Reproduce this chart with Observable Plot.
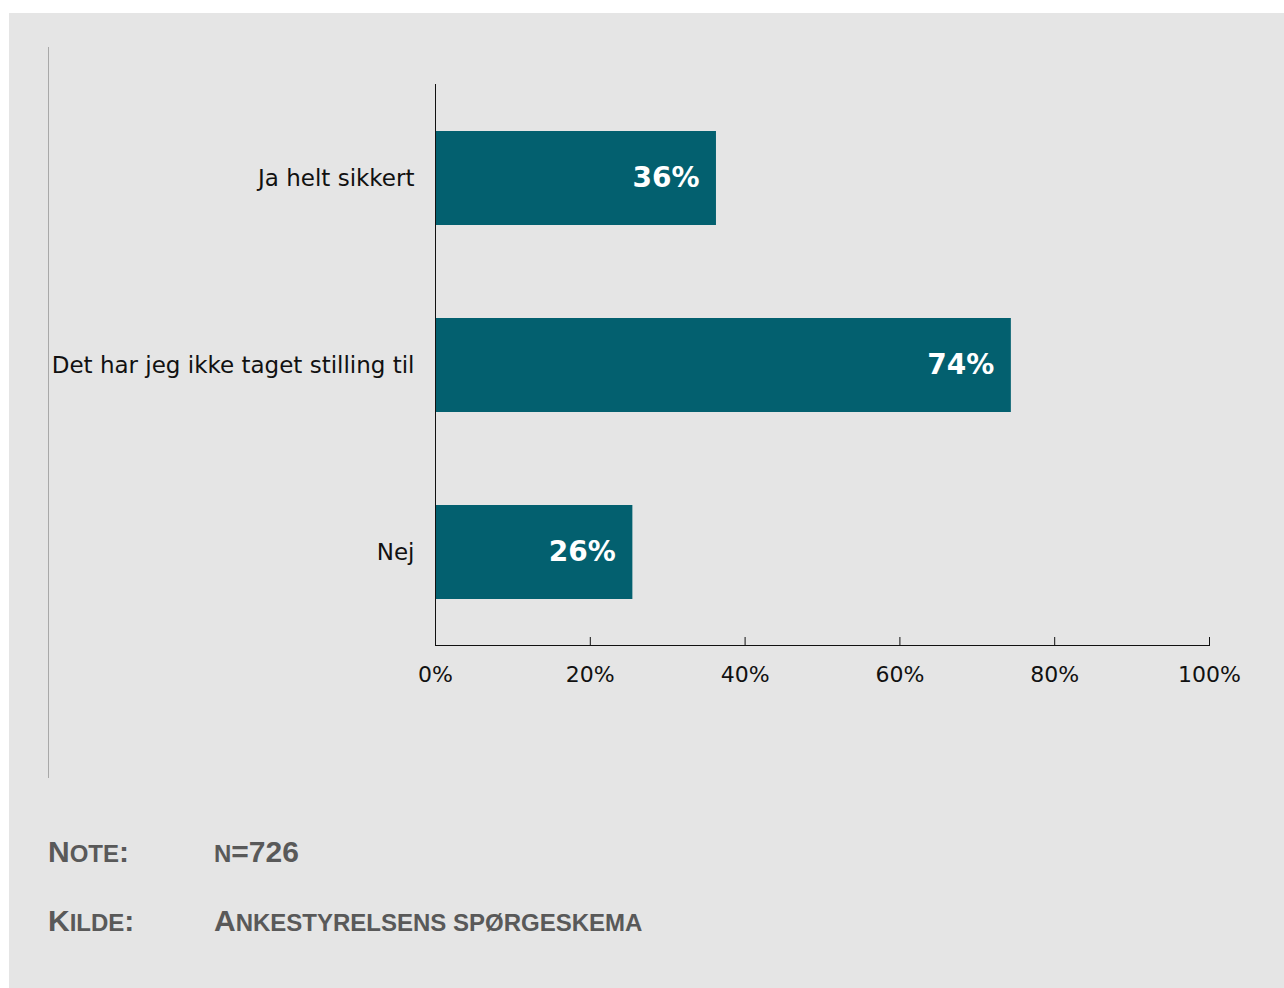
<!DOCTYPE html>
<html>
<head>
<meta charset="utf-8">
<script src="https://cdn.jsdelivr.net/npm/d3@7"></script>
<script src="https://cdn.jsdelivr.net/npm/@observablehq/plot@0.6"></script>
<style>
  html, body { margin: 0; padding: 0; background: #ffffff; }
  #panel { position: absolute; left: 9px; top: 13px; width: 1275px; height: 975px; background: #e5e5e5; }
  #vline { position: absolute; left: 39px; top: 34px; width: 1px; height: 731px; background: #a8a8a8; }
  #chart { position: absolute; left: 0; top: 0; }
  .note { position: absolute; font-family: "Liberation Sans", Arial, sans-serif; font-weight: bold; font-size: 30px; color: #595959; line-height: 1; white-space: nowrap; }
  .note .sc { font-size: 24px; }
</style>
</head>
<body>
<div id="panel">
  <div id="vline"></div>
  <div id="chart"></div>
  <div class="note" style="left:39px; top:824px;">N<span class="sc">OTE</span>:</div>
  <div class="note" style="left:205px; top:824px;"><span class="sc">N</span>=726</div>
  <div class="note" style="left:39px; top:893px;">K<span class="sc">ILDE</span>:</div>
  <div class="note" style="left:205px; top:893px;">A<span class="sc">NKESTYRELSENS SPØRGESKEMA</span></div>
</div>
<script>
const categories = ["Ja helt sikkert", "Det har jeg ikke taget stilling til", "Nej"];
const values = [36.3, 74.4, 25.5];
const valueLabels = ["36%", "74%", "26%"];
const xTicks = [0, 20, 40, 60, 80, 100];

const data = categories.map((c, i) => ({category: c, value: values[i], label: valueLabels[i]}));

const chart = Plot.plot({
  width: 1275,
  height: 760,
  marginLeft: 426,
  marginRight: 75,
  marginTop: 71,
  marginBottom: 128,
  style: {background: "transparent", fontFamily: "'DejaVu Sans', Verdana, sans-serif", color: "#111"},
  x: {domain: [0, 100]},
  y: {domain: categories, paddingInner: 0.5, paddingOuter: 0.25},
  marks: [
    Plot.barX(data, {x: "value", y: "category", fill: "#03606f"}),
    Plot.text(data, {x: "value", y: "category", text: "label", textAnchor: "end", dx: -17, fill: "white", fontWeight: "bold", fontSize: 28}),
    Plot.ruleX([0], {stroke: "#111"}),
    Plot.frame({anchor: "bottom", stroke: "#111"}),
    Plot.axisX({ticks: xTicks, tickSize: 8, dy: -8, tickFormat: () => "", stroke: "#111", label: null}),
    Plot.axisX({ticks: xTicks, tickSize: 0, tickPadding: 21, tickFormat: d => d + "%", fontSize: 22, fill: "#111", label: null}),
    Plot.axisY({tickSize: 0, tickPadding: 21, fontSize: 23, fill: "#111", label: null})
  ]
});
chart.style.overflow = "visible";
document.getElementById("chart").appendChild(chart);
</script>
</body>
</html>
